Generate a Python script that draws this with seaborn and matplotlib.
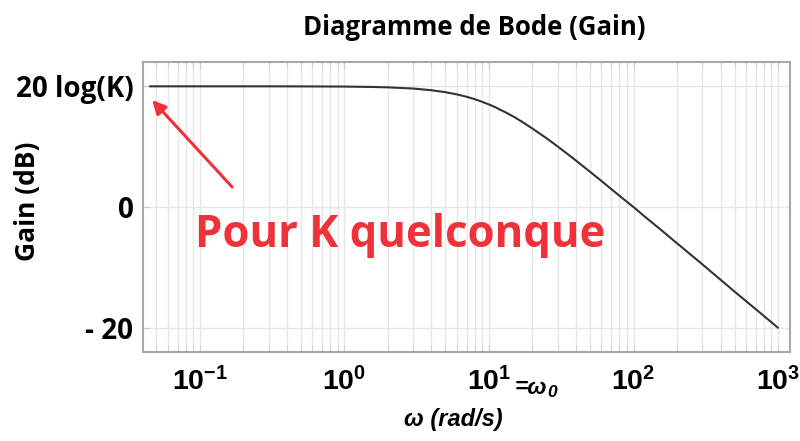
import pandas as pd
import seaborn as sns
import matplotlib.pyplot as plt
from matplotlib.ticker import LogLocator, NullFormatter, FixedLocator

# gain curve (first order low-pass, corner near 10 rad/s)
omega = [0.045, 0.1, 0.2, 0.3, 0.5, 1, 1.5, 2, 3, 4, 5, 6, 7, 8, 9, 10, 11,
         12, 13, 15, 17, 20, 25, 30, 35, 40, 50, 60, 70, 85, 100, 120, 150,
         200, 300, 500, 700, 1000]
gain_db = [20.0, 20.0, 20.0, 20.0, 19.99, 19.96, 19.9, 19.83, 19.63, 19.35,
           19.03, 18.66, 18.27, 17.86, 17.42, 16.99, 16.56, 16.1, 15.7, 14.9,
           14.1, 13.0, 11.4, 10.0, 8.78, 7.7, 5.85, 4.32, 3.0, 1.35, 0.0,
           -1.61, -3.5, -6.0, -9.5, -14.0, -16.9, -20.0]

y_ticks = [-20, 0, 20]
y_tick_labels = ['- 20', '0', '20 log(K)']
x_ticks = [0.1, 1, 10, 100, 1000]
x_tick_labels = [r'$\mathbf{10^{-1}}$', r'$\mathbf{10^{0}}$', r'$\mathbf{10^{1}}$',
                 r'$\mathbf{10^{2}}$', r'$\mathbf{10^{3}}$']

RED = '#ef3239'
GRID = '#e6e6e6'
FRAME = '#a8a8a8'

sns.set_style('white')
plt.rcParams['font.family'] = ['Open Sans', 'DejaVu Sans']
plt.rcParams['text.color'] = 'black'
plt.rcParams['axes.labelcolor'] = 'black'
plt.rcParams['xtick.labelcolor'] = 'black'
plt.rcParams['ytick.labelcolor'] = 'black'
plt.rcParams['mathtext.fontset'] = 'custom'
plt.rcParams['mathtext.bf'] = 'Liberation Sans:bold'
plt.rcParams['mathtext.rm'] = 'Liberation Sans'

df = pd.DataFrame({'omega': omega, 'gain': gain_db})

fig = plt.figure(figsize=(8, 4.41), dpi=100)
ax = fig.add_axes([0.179, 0.202, 0.8085, 0.657])

sns.lineplot(data=df, x='omega', y='gain', ax=ax, color='#333333', linewidth=1.5)

ax.set_xscale('log')
ax.set_xlim(10 ** -1.393, 10 ** 3.083)
ax.set_ylim(-24, 24)

ax.xaxis.set_major_locator(FixedLocator(x_ticks))
ax.xaxis.set_minor_locator(LogLocator(base=10, subs=range(2, 10), numticks=20))
ax.xaxis.set_minor_formatter(NullFormatter())
ax.set_xticks(x_ticks)
ax.set_xticklabels(x_tick_labels, fontsize=20.5)
ax.set_yticks(y_ticks)
ax.set_yticklabels(y_tick_labels, fontsize=20, fontweight='bold')

ax.grid(True, which='both', axis='x', color=GRID, linewidth=1)
ax.grid(True, which='major', axis='y', color=GRID, linewidth=1)
ax.tick_params(axis='x', which='both', direction='in', length=5, color='#d0d0d0',
               top=True, bottom=True, pad=12)
ax.tick_params(axis='y', which='major', direction='in', length=5, color='#d0d0d0',
               left=True, pad=7)

for s in ax.spines.values():
    s.set_color(FRAME)
    s.set_linewidth(1.5)

ax.set_xlabel('ω (rad/s)', fontsize=17, fontstyle='italic', fontweight='bold',
              family=['Liberation Sans', 'DejaVu Sans'])
ax.xaxis.set_label_coords(0.48, -0.195)
ax.set_ylabel('Gain (dB)', fontsize=19, fontweight='bold')
ax.yaxis.set_label_coords(-0.158, 0.52)

# omega_0 marker next to 10^1
ax.text(0.575, -0.122, '=ω', transform=ax.transAxes, fontsize=16.5,
        fontstyle='italic', fontweight='bold',
        family=['Liberation Sans', 'DejaVu Sans'], ha='left', va='center')
ax.text(0.624, -0.14, '0', transform=ax.transAxes, fontsize=12.5,
        fontstyle='italic', fontweight='bold',
        family=['Liberation Sans', 'DejaVu Sans'], ha='left', va='center')

fig.text(0.5925, 0.937, 'Diagramme de Bode (Gain)', ha='center', va='center',
         fontsize=18.5, fontweight='bold')

ax.annotate('', xy=(0.0139, 0.869), xytext=(0.1376, 0.569),
            xycoords='axes fraction', textcoords='axes fraction',
            arrowprops=dict(arrowstyle='-|>', color=RED, lw=2.2,
                            mutation_scale=20, shrinkA=0, shrinkB=0))
ax.text(0.080, 0.362, 'Pour K quelconque', transform=ax.transAxes, color=RED,
        fontsize=31.5, fontweight='bold', ha='left', va='baseline')

fig.savefig('out.png', dpi=100)
